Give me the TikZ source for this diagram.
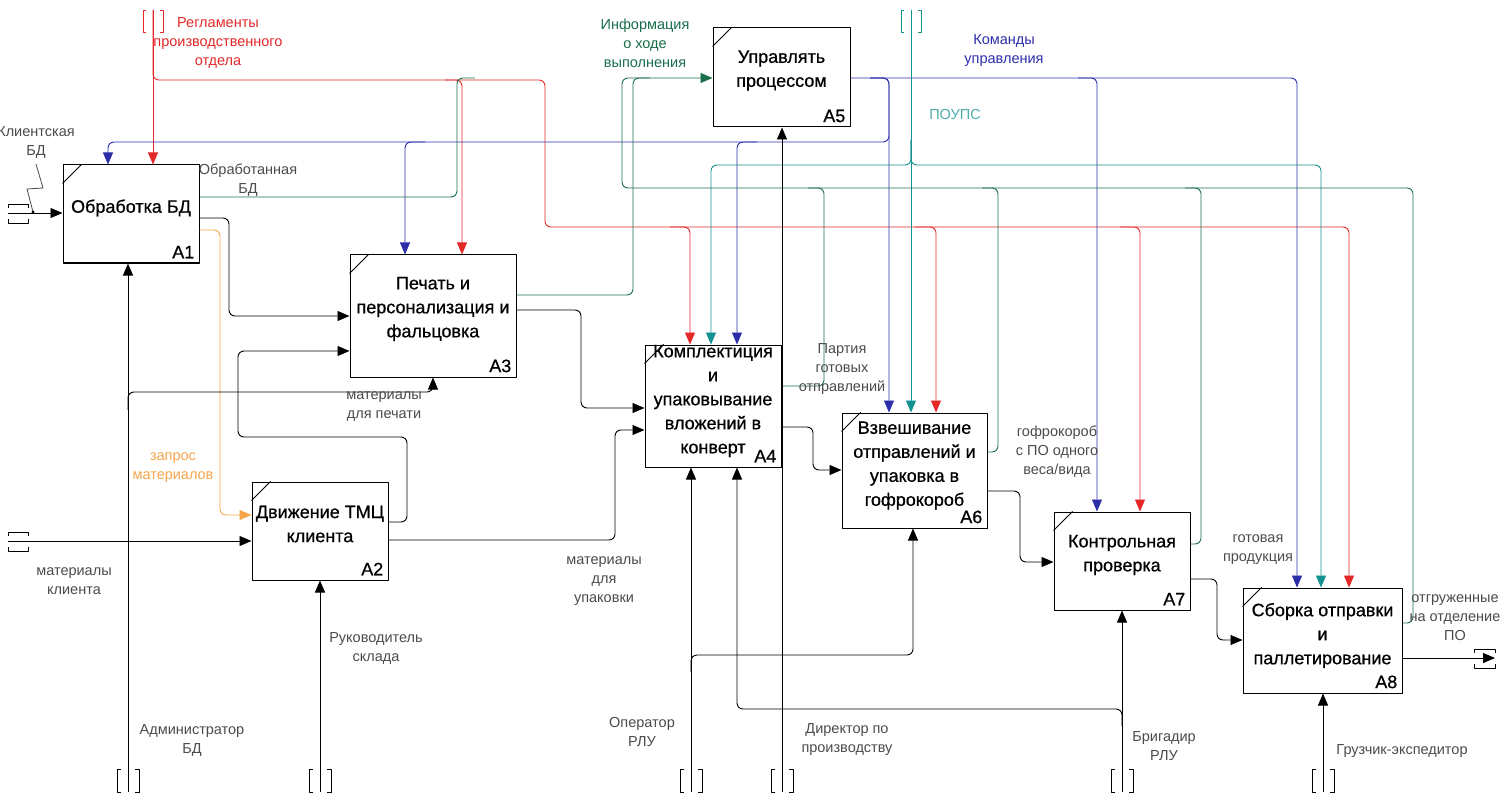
\documentclass[tikz,border=0pt]{standalone}
\usepackage{fontspec}
\setmainfont{Liberation Sans}
\newfontfamily\boxfont{Liberation Sans}[FakeBold=0.7]
\usetikzlibrary{arrows.meta}
\definecolor{idred}{RGB}{228,40,40}
\definecolor{idblue}{RGB}{45,45,170}
\definecolor{idteal}{RGB}{20,145,145}
\definecolor{idgreen}{RGB}{25,110,75}
\definecolor{idorange}{RGB}{245,165,75}
\definecolor{idtext}{RGB}{75,75,75}
\tikzstyle{every picture}=[x=1pt, y=-1pt, >={Triangle[length=12pt,width=10pt]}, line join=round]
\tikzstyle{func}=[draw, line width=1pt, inner sep=0pt]
\tikzstyle{fname}=[font=\boxfont\fontsize{18}{24}\selectfont, align=center]
\tikzstyle{fnum}=[font=\boxfont\fontsize{18}{20}\selectfont, anchor=south east, inner xsep=5pt, inner ysep=5pt]
\tikzstyle{lbl}=[font=\fontsize{14.5}{19}\selectfont, align=center, text=idtext, inner sep=0pt]
\tikzstyle{fb}=[line width=0.9pt, rounded corners=6pt]
\tikzstyle{flw}=[fb, ->]
\tikzstyle{tun}=[line width=0.9pt]

\begin{document}
\begin{tikzpicture}
	\useasboundingbox (0,0) rectangle (1506,802);
	\node[func, minimum width=136, minimum height=98] (a1) at (131,214) {};
	\node[func, minimum width=136, minimum height=98] (a2) at (320,531) {};
	\node[func, minimum width=166, minimum height=122] (a3) at (433,316) {};
	\node[func, minimum width=136, minimum height=122] (a4) at (713,406) {};
	\node[func, minimum width=137, minimum height=99] (a5) at (781.5,77.5) {};
	\node[func, minimum width=145, minimum height=115] (a6) at (914.5,470.5) {};
	\node[func, minimum width=136, minimum height=98] (a7) at (1122,561) {};
	\node[func, minimum width=159, minimum height=105] (a8) at (1322.5,640.5) {};

	\node[fname] (t1) at ([yshift=6pt]a1.center) {Обработка БД};
	\node[fname] (t2) at ([yshift=7pt]a2.center) {Движение ТМЦ\\клиента};
	\node[fname] (t3) at ([yshift=7pt]a3.center) {Печать и\\персонализация и\\фальцовка};
	\node[fname] (t4) at ([yshift=5pt]a4.center) {Комплектиция\\и\\упаковывание\\вложений в\\конверт};
	\node[fname] (t5) at ([yshift=7pt]a5.center) {Управлять\\процессом};
	\node[fname] (t6) at ([yshift=5pt]a6.center) {Взвешивание\\отправлений и\\упаковка в\\гофрокороб};
	\node[fname] (t7) at ([yshift=6pt]a7.center) {Контрольная\\проверка};
	\node[fname] (t8) at ([yshift=5pt]a8.center) {Сборка отправки\\и\\паллетирование};

	\foreach \b/\n in {a1/A1,a2/A2,a3/A3,a4/A4,a5/A5,a6/A6,a7/A7,a8/A8} {
		\node[fnum] (n\b) at (\b.south east) {\n};
		\draw[line width=0.9pt] ([yshift=-19pt]\b.north west) -- ([xshift=19pt]\b.north west);
	}

	\coordinate (tReg) at (153,10);
	\coordinate (tPoups) at (911,10);
	\coordinate (tCli) at (8,213);
	\coordinate (tMat) at (8,541);
	\coordinate (tOut) at (1495,658);

	\draw[flw, idred] (tReg) -- (153,0 |- a1.north);
	\draw[flw, idred] (tReg) |- (545,80) |- (1349,227) -- (1349,0 |- a8.north);
	\draw[flw, idred] (445,80) -| (462,0 |- a3.north);
	\draw[flw, idred] (670,227) -| (690,0 |- a4.north);
	\draw[flw, idred] (915,227) -| (936,0 |- a6.north);
	\draw[flw, idred] (1120,227) -| (1140,0 |- a7.north);

	\draw[flw, idblue] (a5.east |- 0,78) -| (1297,0 |- a8.north);
	\draw[flw, idblue] (1078,78) -| (1097,0 |- a7.north);
	\draw[flw, idblue] (870,78) -| (889,0 |- a6.north);
	\draw[flw, idblue] (870,78) -| (889,142) -| (108,0 |- a1.north);
	\draw[flw, idblue] (425,142) -| (405,0 |- a3.north);
	\draw[flw, idblue] (757,142) -| (737,0 |- a4.north);

	\draw[flw, idteal] (tPoups) -- (911,0 |- a6.north);
	\draw[flw, idteal] (911,140) |- (711,165) -- (711,0 |- a4.north);
	\draw[flw, idteal] (911,140) |- (1321,165) -- (1321,0 |- a8.north);

	\draw[flw, idgreen] (a8.east |- 0,623) -| (1413,188) -| (622,78) -- (a5.west |- 0,78);
	\draw[fb, idgreen] (a7.east |- 0,544) -| (1201,188) -- (1185,188);
	\draw[fb, idgreen] (a6.east |- 0,452) -| (998,188) -- (982,188);
	\draw[fb, idgreen] (a4.east |- 0,386) -| (824,188) -- (808,188);
	\draw[fb, idgreen] (a3.east |- 0,295) -| (633,78) -- (650,78);
	\draw[fb, idgreen] (a1.east |- 0,197) -| (457,78) -- (475,78);

	\draw[flw] (tCli) -- (a1.west |- 0,213);
	\draw[flw] (a1.east |- 0,218) -| (229,316) -- (a3.west |- 0,316);
	\draw[flw, idorange] (a1.east |- 0,230) -| (220,515) -- (a2.west |- 0,515);
	\draw[flw] (a2.east |- 0,522) -| (407,437) -| (238,351) -- (a3.west |- 0,351);
	\draw[flw] (a2.east |- 0,540) -| (615,430) -- (a4.west |- 0,430);
	\draw[flw] (a3.east |- 0,310) -| (581,408) -- (a4.west |- 0,408);
	\draw[flw] (a4.east |- 0,427) -| (813,470) -- (a6.west |- 0,470);
	\draw[flw] (a6.east |- 0,491) -| (1020,562) -- (a7.west |- 0,562);
	\draw[flw] (a7.east |- 0,579) -| (1217,640) -- (a8.west |- 0,640);
	\draw[flw] (tMat) -- (a2.west |- 0,541);
	\draw[flw] (a8.east |- 0,658) -- (tOut);

	\foreach \x/\b in {128/a1,320/a2,691/a4,782/a5,1122/a7,1323/a8} {
		\coordinate (m\b) at (\x,792);
		\draw[flw] (m\b) -- (\x,0 |- \b.south);
		\draw[tun] (\x-7,769) -- (\x-11,769) -- (\x-11,792) -- (\x-7,792)
			(\x+7,769) -- (\x+11,769) -- (\x+11,792) -- (\x+7,792);
	}
	\draw[flw] (128,410) |- (433,392) -- (433,0 |- a3.south);
	\draw[flw] (691,672) |- (913,655) -- (913,0 |- a6.south);
	\draw[flw] (1122,726) |- (737,709) -- (737,0 |- a4.south);

	\foreach \y in {213,541} {
		\draw[tun] (8,\y-5) -- (8,\y-9) -- (28,\y-9) -- (28,\y-5)
			(8,\y+6) -- (8,\y+10) -- (28,\y+10) -- (28,\y+6);
	}
	\draw[tun] (1474,653) -- (1474,649) -- (1495,649) -- (1495,653)
		(1474,664) -- (1474,668) -- (1495,668) -- (1495,664);
	\foreach \x/\c in {153/idred,911/idteal} {
		\draw[tun, \c] (\x-7,10) -- (\x-10,10) -- (\x-10,32) -- (\x-7,32)
			(\x+7,10) -- (\x+10,10) -- (\x+10,32) -- (\x+7,32);
	}
	\draw[line width=0.8pt, idtext] (36,164) -- (43,188) -- (27,189) -- (33,212);
	\fill (33,212) circle (1.6);

	\node[lbl, text=idred] (lreg) at (218,43) {Регламенты\\производственного\\отдела};
	\node[lbl, text=idgreen] (linf) at (645,43) {Информация\\о ходе\\выполнения};
	\node[lbl, text=idblue] (lcmd) at (1004,51) {Команды\\управления};
	\node[lbl, text=idteal!75] (lpoups) at (955,115) {ПОУПС};
	\node[lbl] (lcli) at (36,142) {Клиентская\\БД};
	\node[lbl] (lobr) at (248,180) {Обработанная\\БД};
	\node[lbl, text=idorange] (lzap) at (173,468) {запрос\\материалов};
	\node[lbl] (lmk) at (74,581) {материалы\\клиента};
	\node[lbl] (lmp) at (384,407) {материалы\\для печати};
	\node[lbl] (lmu) at (604,581) {материалы\\для\\упаковки};
	\node[lbl] (lruk) at (376,648) {Руководитель\\склада};
	\node[lbl] (ladm) at (192,740) {Администратор\\БД};
	\node[lbl] (lop) at (642,732) {Оператор\\РЛУ};
	\node[lbl] (ldir) at (847,740) {Директор по\\производству};
	\node[lbl] (lpart) at (842,369) {Партия\\готовых\\отправлений};
	\node[lbl] (lgof) at (1057,452) {гофрокороб\\с ПО одного\\веса/вида};
	\node[lbl] (lgot) at (1258,550) {готовая\\продукция};
	\node[lbl] (lotg) at (1455,618) {отгруженные\\на отделение\\ПО};
	\node[lbl] (lbrig) at (1164,746) {Бригадир\\РЛУ};
	\node[lbl] (lgruz) at (1402,751) {Грузчик-экспедитор};
\end{tikzpicture}
\end{document}
